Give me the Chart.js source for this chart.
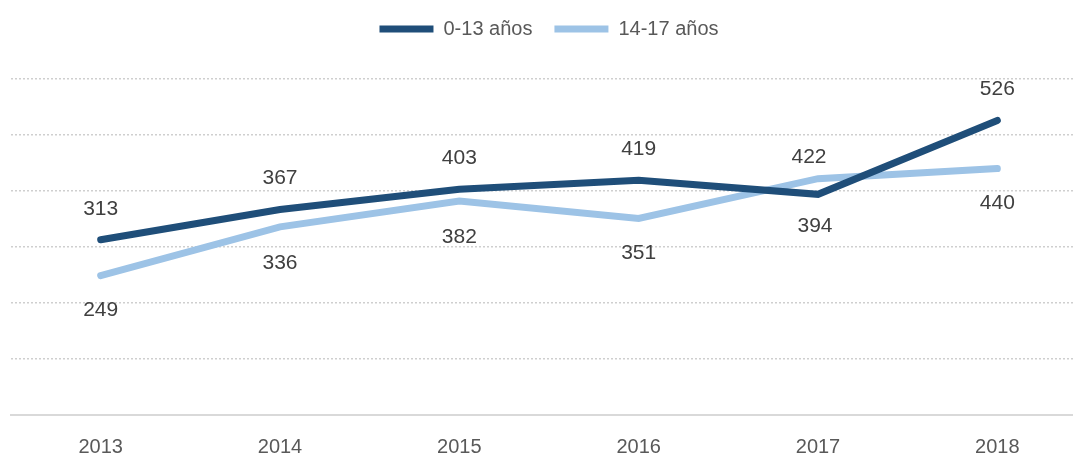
<!DOCTYPE html>
<html>
<head>
<meta charset="utf-8">
<script src="https://cdn.jsdelivr.net/npm/chart.js@4/dist/chart.umd.min.js"></script>
<style>
  html, body { margin: 0; padding: 0; background: #fff; overflow: hidden; }
  #wrap { position: relative; width: 1087px; height: 479px; }
</style>
</head>
<body>
<div id="wrap"><canvas id="graph"></canvas></div>
<script>
// Datos
const anios = ['2013', '2014', '2015', '2016', '2017', '2018'];
const ninos = [313, 367, 403, 419, 394, 526];      // 0-13 años
const adolescentes = [249, 336, 382, 351, 422, 440]; // 14-17 años
const nombres = ['0-13 años', '14-17 años'];

// Etiquetas encima/debajo de cada punto (dx, dy)
const desplazamientos = [
	[[0, -31], [0, -31], [0, -31], [0, -31], [-3, 32], [0, -31]],
	[[0, 35], [0, 36], [0, 36], [0, 35], [-9, -21], [0, 35]]
];

const etiquetasPlugin = {
	id: 'etiquetas',
	beforeInit(chart) {
		// mas espacio entre la leyenda y el grafico
		const fitOrig = chart.legend.fit;
		chart.legend.fit = function() {
			fitOrig.bind(chart.legend)();
			this.height += 30;
		};
	},
	afterDatasetsDraw(chart) {
		const ctx = chart.ctx;
		ctx.save();
		ctx.font = '21px "Liberation Sans", Arial, sans-serif';
		ctx.fillStyle = '#404040';
		ctx.textAlign = 'center';
		ctx.textBaseline = 'middle';
		chart.data.datasets.forEach((ds, i) => {
			chart.getDatasetMeta(i).data.forEach((pt, j) => {
				const d = desplazamientos[i][j];
				ctx.fillText(ds.data[j], pt.x + d[0], pt.y + d[1]);
			});
		});
		ctx.restore();
	}
};

Chart.defaults.font.family = '"Liberation Sans", Arial, sans-serif';
Chart.defaults.color = '#595959';

let config = {
	type: 'line',
	data: {
		labels: anios,
		datasets: [{
			label: nombres[0],
			data: ninos,
			borderColor: '#1F4E79',
			backgroundColor: '#1F4E79',
			borderWidth: 7,
			borderCapStyle: 'round',
			borderJoinStyle: 'miter',
			pointRadius: 0,
			tension: 0
		}, {
			label: nombres[1],
			data: adolescentes,
			borderColor: '#9DC3E6',
			backgroundColor: '#9DC3E6',
			borderWidth: 7,
			borderCapStyle: 'round',
			borderJoinStyle: 'miter',
			pointRadius: 0,
			tension: 0
		}]
	},
	options: {
		responsive: true,
		maintainAspectRatio: false,
		animation: false,
		layout: { padding: { left: 11, right: 0, top: -3, bottom: 0 } },
		plugins: {
			legend: {
				position: 'top',
				labels: {
					usePointStyle: true,
					pointStyle: 'line',
					pointStyleWidth: 54,
					font: { size: 20 },
					color: '#595959',
					padding: 22
				}
			},
			tooltip: { enabled: false }
		},
		scales: {
			x: {
				offset: true,
				grid: { display: false, drawTicks: false },
				border: { display: true, color: '#D9D9D9', width: 2 },
				ticks: { padding: 20, font: { size: 20 }, color: '#595959' }
			},
			y: {
				min: 0,
				max: 600,
				ticks: { display: false, stepSize: 100 },
				border: { display: false, dash: [2, 2] },
				grid: {
					drawTicks: false,
					lineWidth: 1.5,
					color: c => c.tick.value === 0 ? 'rgba(0,0,0,0)' : '#CFCFCF'
				}
			}
		}
	},
	plugins: [etiquetasPlugin]
};

var ctx = document.getElementById('graph').getContext('2d');
window.grafico = new Chart(ctx, config);
</script>
</body>
</html>
